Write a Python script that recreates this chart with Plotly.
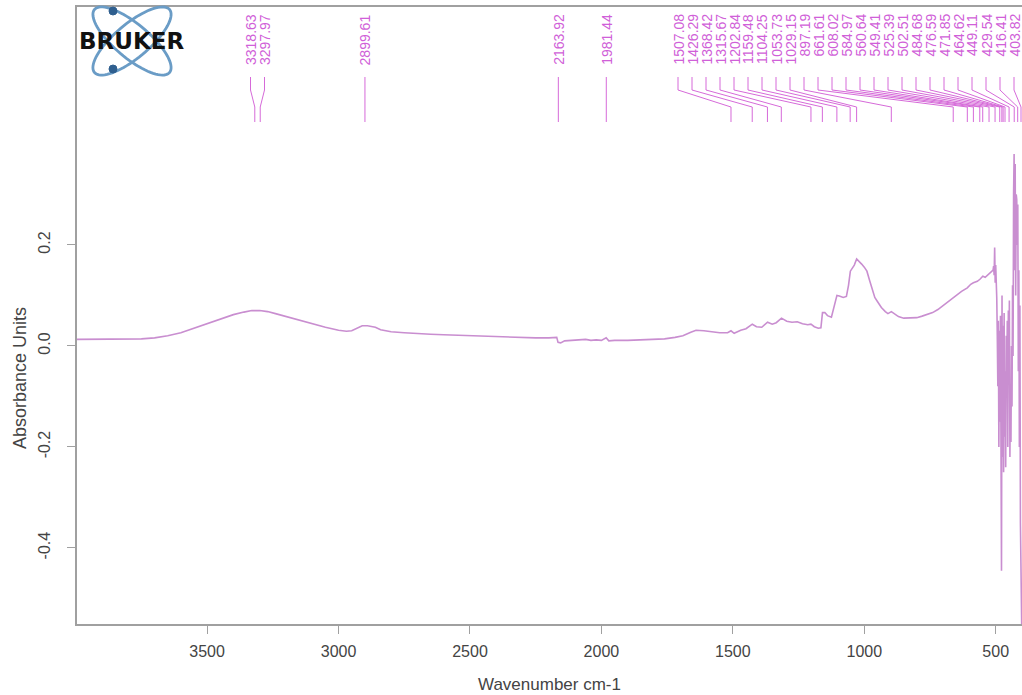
import numpy as np
import plotly.graph_objects as go

# ---------------- spectrum data (wavenumber cm-1, absorbance units) ----------------
wavenumber = [
    3995, 3900, 3800, 3750, 3700, 3650, 3600, 3550, 3500, 3450, 3400, 3360, 3330, 3300,
    3270, 3240, 3200, 3150, 3100, 3050, 3000, 2970, 2950, 2930, 2910, 2890, 2860, 2840,
    2800, 2750, 2700, 2650, 2600, 2550, 2500, 2450, 2400, 2350, 2300, 2250, 2200, 2170,
    2165, 2155, 2140, 2120, 2090, 2060, 2040, 2020, 2000, 1990, 1982, 1972, 1950, 1900,
    1850, 1800, 1760, 1720, 1690, 1660, 1640, 1610, 1580, 1550, 1520, 1507, 1495, 1470,
    1450, 1426, 1410, 1390, 1368, 1350, 1335, 1315, 1295, 1275, 1255, 1235, 1215, 1203,
    1190, 1175, 1165, 1159, 1150, 1140, 1125, 1110, 1104, 1095, 1080, 1068, 1060, 1053,
    1045, 1038, 1029, 1020, 1010, 1000, 990, 980, 970, 960, 950, 935, 920, 910, 897,
    885, 870, 850, 830, 800, 780, 760, 740, 720, 700, 680, 661, 645, 630, 608, 595, 585,
    570, 560, 549, 540, 525, 515,
    510, 508, 506, 504, 502, 500, 498, 496, 494, 492, 490, 488, 486, 484, 482, 480, 478,
    476, 474, 472, 470, 468, 466, 464, 462, 460, 458, 456, 454, 452, 450, 448, 446, 444,
    442, 440, 438, 436, 434, 432, 430, 428, 426, 424, 422, 420, 418, 416, 414, 412, 410,
    408, 406, 404, 402, 400,
]
absorbance = [
    0.013, 0.013, 0.013, 0.014, 0.016, 0.020, 0.026, 0.035, 0.045, 0.054, 0.062, 0.067, 0.070, 0.070,
    0.068, 0.064, 0.058, 0.051, 0.044, 0.037, 0.031, 0.029, 0.030, 0.035, 0.040, 0.040, 0.037, 0.032,
    0.028, 0.026, 0.024, 0.023, 0.022, 0.021, 0.020, 0.019, 0.018, 0.017, 0.017, 0.016, 0.016, 0.017,
    0.007, 0.006, 0.010, 0.011, 0.012, 0.013, 0.011, 0.012, 0.011, 0.014, 0.016, 0.010, 0.011, 0.011,
    0.012, 0.012, 0.014, 0.017, 0.020, 0.027, 0.031, 0.030, 0.028, 0.026, 0.026, 0.030, 0.025, 0.031,
    0.034, 0.043, 0.038, 0.037, 0.047, 0.043, 0.046, 0.055, 0.049, 0.047, 0.048, 0.044, 0.042, 0.043,
    0.038, 0.035, 0.036, 0.066, 0.066, 0.060, 0.057, 0.085, 0.100, 0.099, 0.096, 0.098, 0.120, 0.148,
    0.155, 0.160, 0.172, 0.168, 0.162, 0.156, 0.148, 0.130, 0.112, 0.096, 0.088, 0.076, 0.068, 0.064, 0.068,
    0.064, 0.058, 0.055, 0.055, 0.056, 0.059, 0.062, 0.066, 0.072, 0.080, 0.087, 0.096, 0.101, 0.108, 0.115, 0.122, 0.125,
    0.128, 0.132, 0.138, 0.136, 0.143, 0.146,
    0.150, 0.158, 0.140, 0.195, 0.125, 0.160, 0.130, 0.095, 0.020, -0.080, 0.050, -0.200, 0.030, -0.150, 0.060, -0.300, -0.445,
    0.100, -0.220, 0.040, -0.250, 0.065, -0.180, -0.050, -0.240, 0.020, -0.100, 0.050, -0.200, 0.070, -0.050, 0.090, -0.220, -0.080,
    -0.190, 0.000, -0.120, 0.120, -0.020, 0.300, 0.380, 0.150, 0.360, 0.100, 0.300, 0.290, 0.200, 0.280, -0.050, 0.150, -0.200,
    0.080, -0.350, -0.600, -0.580, -0.600,
]

# picked peaks (cm-1)
peaks = [
    3318.63, 3297.97, 2899.61, 2163.92, 1981.44, 1507.08, 1426.29, 1368.42, 1315.67,
    1202.84, 1159.48, 1104.25, 1053.73, 1029.15, 897.19, 661.61, 608.02, 584.97,
    560.64, 549.41, 525.39, 502.51, 484.68, 476.59, 471.85, 464.62, 449.11, 429.54,
    416.41, 403.82,
]

x_tick_vals = [3500, 3000, 2500, 2000, 1500, 1000, 500]
x_tick_text = ["3500", "3000", "2500", "2000", "1500", "1000", "500"]
y_tick_vals = [-0.4, -0.2, 0.0, 0.2]
y_tick_text = ["-0.4", "-0.2", "0.0", "0.2"]

# ---------------- geometry ----------------
W, H = 1022, 695
ML, MR, MT, MB = 77, 0, 7, 71
X_RANGE = [3995, 400]
Y_RANGE = [-0.5505, 0.671]
plot_w = W - ML - MR
plot_h = H - MT - MB
wn_per_px = (X_RANGE[0] - X_RANGE[1]) / plot_w
y_per_px = (Y_RANGE[1] - Y_RANGE[0]) / plot_h


def y_at_px(py):
    """data y for a pixel row measured from the top of the page"""
    return Y_RANGE[1] - (py - MT) * y_per_px


# ---------------- peak label layout: spread overlapping labels ----------------
gap = 14 * wn_per_px          # minimum spacing between labels
s_true = [-p for p in peaks]  # increasing to the right
s_lo, s_hi = -3990.0, -(X_RANGE[1] + 8 * wn_per_px)

clusters = [[i] for i in range(len(peaks))]


def place(cl):
    n = len(cl)
    c = np.mean([s_true[i] for i in cl])
    start = c - (n - 1) * gap / 2
    start = max(start, s_lo)
    start = min(start, s_hi - (n - 1) * gap)
    return start, start + (n - 1) * gap


changed = True
while changed:
    changed = False
    spans = [place(c) for c in clusters]
    for k in range(len(clusters) - 1):
        if spans[k][1] + gap > spans[k + 1][0] + 1e-9:
            clusters[k] = clusters[k] + clusters[k + 1]
            del clusters[k + 1]
            changed = True
            break

label_wn = [0.0] * len(peaks)
for cl in clusters:
    start, _ = place(cl)
    for j, i in enumerate(cl):
        label_wn[i] = -(start + j * gap)

# leader lines: vertical under label, slant to peak, vertical down
y_a, y_b, y_c, y_d = y_at_px(77), y_at_px(90), y_at_px(107), y_at_px(122)
lx, ly = [], []
for p, lw in zip(peaks, label_wn):
    lx += [lw, lw, p, p, None]
    ly += [y_a, y_b, y_c, y_d, None]

fig = go.Figure()

fig.add_trace(go.Scatter(
    x=lx, y=ly, mode="lines", hoverinfo="skip",
    line=dict(color="#d66ad9", width=1), showlegend=False,
))

fig.add_trace(go.Scatter(
    x=wavenumber, y=absorbance, mode="lines",
    line=dict(color="#c98ed0", width=1.6), showlegend=False,
))

label_top = y_at_px(12)
for p, lw in zip(peaks, label_wn):
    fig.add_annotation(
        x=lw, y=label_top, xref="x", yref="y", text=f"{p:.2f}",
        textangle=-90, showarrow=False, xanchor="center", yanchor="top",
        font=dict(family="Liberation Sans, Arial, sans-serif", size=14, color="#d060d8"),
    )

# ---------------- Bruker logo ----------------
def to_paper(px, py):
    return (px - ML) / plot_w, (H - MB - py) / plot_h


def ellipse_path(cx, cy, a, b, ang_deg, n=80):
    t = np.linspace(0, 2 * np.pi, n)
    th = np.radians(ang_deg)
    xs = cx + a * np.cos(t) * np.cos(th) - b * np.sin(t) * np.sin(th)
    ys = cy + a * np.cos(t) * np.sin(th) + b * np.sin(t) * np.cos(th)
    pts = [to_paper(x, y) for x, y in zip(xs, ys)]
    return "M " + " L ".join(f"{x:.5f},{y:.5f}" for x, y in pts) + " Z"


for ang in (40, -40):
    fig.add_shape(type="path", xref="paper", yref="paper",
                  path=ellipse_path(132, 41, 49, 17, ang),
                  line=dict(color="#6a9cc6", width=2.8), fillcolor="rgba(0,0,0,0)")

for dx, dy in ((113, 11), (113, 69)):
    x0, y0 = to_paper(dx - 4, dy + 4)
    x1, y1 = to_paper(dx + 4, dy - 4)
    fig.add_shape(type="circle", xref="paper", yref="paper",
                  x0=x0, y0=y0, x1=x1, y1=y1,
                  line=dict(color="#2f5f8f", width=1), fillcolor="#2f5f8f")

lx0, ly0 = to_paper(131, 41)
fig.add_annotation(x=lx0, y=ly0, xref="paper", yref="paper", text="<b>BRUKER</b>",
                   showarrow=False, xanchor="center", yanchor="middle",
                   font=dict(family="DejaVu Sans", size=23, color="#111111"))

# ---------------- axis titles ----------------
tx, ty = to_paper(549, 684)
fig.add_annotation(x=tx, y=ty, xref="paper", yref="paper", text="Wavenumber cm-1",
                   showarrow=False, xanchor="center", yanchor="middle",
                   font=dict(family="Liberation Sans, Arial, sans-serif", size=17, color="#444444"))
tx, ty = to_paper(20, 378)
fig.add_annotation(x=tx, y=ty, xref="paper", yref="paper", text="Absorbance Units",
                   showarrow=False, xanchor="center", yanchor="middle", textangle=-90,
                   font=dict(family="Liberation Sans, Arial, sans-serif", size=18, color="#444444"))

axis_font = dict(family="Liberation Sans, Arial, sans-serif", size=16, color="#444444")
fig.update_xaxes(
    range=X_RANGE, tickvals=x_tick_vals, ticktext=x_tick_text,
    showgrid=False, zeroline=False, showline=True, linecolor="#a0a0a0", linewidth=1.5,
    mirror=True, ticks="outside", ticklen=8, tickcolor="#a0a0a0", tickwidth=1,
    tickfont=axis_font, ticklabelstandoff=4,
)
fig.update_yaxes(
    range=Y_RANGE, tickvals=y_tick_vals, ticktext=y_tick_text, tickangle=-90,
    showgrid=False, zeroline=False, showline=True, linecolor="#a0a0a0", linewidth=1.5,
    ticks="outside", ticklen=8, tickcolor="#a0a0a0", tickwidth=1,
    tickfont=axis_font, ticklabelstandoff=11,
)
fig.update_layout(
    width=W, height=H, margin=dict(l=ML, r=MR, t=MT, b=MB),
    paper_bgcolor="white", plot_bgcolor="white", showlegend=False,
)

fig.write_html("out.html")
